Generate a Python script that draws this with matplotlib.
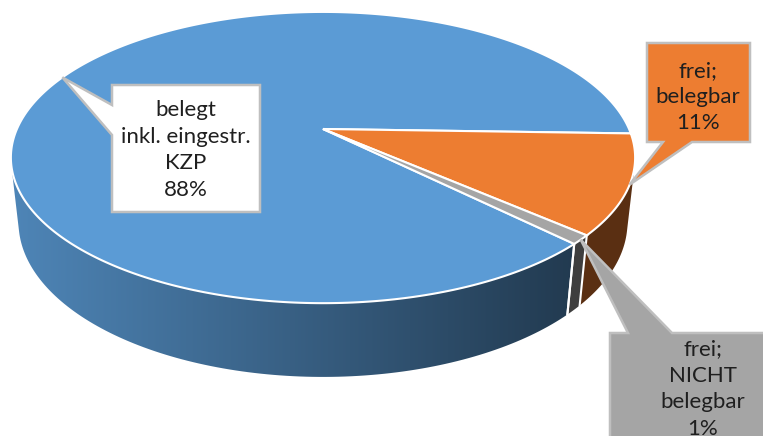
import numpy as np
import matplotlib.pyplot as plt
from matplotlib.patches import Polygon
from matplotlib.colors import to_rgb

names = ['belegt\ninkl. eingestr.\nKZP', 'frei;\nbelegbar', 'frei;\nNICHT\nbelegbar']
shares = [88, 11, 1]
top_colors = ['#5b9bd5', '#ed7d31', '#a5a5a5']
label_fills = ['white', '#ed7d31', '#a5a5a5']

# label boxes (x0, y0, x1, y1) in pixels, plus where the pointer leaves the box
boxes = [(112, 85, 260, 212), (647, 43, 750, 142), (610, 333, 800, 470)]
pointer_side = ['left', 'bottom', 'top']
pointer_base = [(105, 135), (663, 692), (628, 672)]
text_pos = [(186, 150), (698, 97), (703, 389)]

# perspective view of the 3d pie, pixel space
CX, CY = 323, 129
K, L = 1388.0, 4.535
SE, CE = 0.4575, 0.889
H = 0.24
START = 45.0


def project(phi, z=0.0):
    phi = np.radians(phi)
    px, py = np.cos(phi), np.sin(phi)
    depth = L - py * CE - z * SE
    x = CX + K * px / depth
    y = CY + K * (py * SE - z * CE) / depth
    return x, y


def shade(x):
    return np.interp(x, [10, 570], [0.86, 0.38])


fig = plt.figure(figsize=(7.63, 4.36), dpi=100)
ax = fig.add_axes([0, 0, 1, 1])

total = sum(shares)
bounds = START + np.concatenate([[0], np.cumsum(shares)]) / total * 360
vis = np.degrees(np.arcsin(1 / (L * CE)))
vis_lo, vis_hi = vis, 180 - vis

# side walls
for i in range(len(shares)):
    a, b = bounds[i], bounds[i + 1]
    for k in (-1, 0, 1):
        lo = max(a, vis_lo + 360 * k)
        hi = min(b, vis_hi + 360 * k)
        if lo >= hi:
            continue
        t = np.linspace(lo, hi, 120)
        xt, yt = project(t)
        xb, yb = project(t[::-1], -H)
        pts = np.column_stack([np.concatenate([xt, xb]), np.concatenate([yt, yb])])
        clip = Polygon(pts, closed=True, facecolor='none', edgecolor='none')
        ax.add_patch(clip)
        x0, x1 = pts[:, 0].min(), pts[:, 0].max()
        y0, y1 = pts[:, 1].min(), pts[:, 1].max()
        gx = np.linspace(x0, x1, 200)
        img = np.array(to_rgb(top_colors[i]))[None, :] * shade(gx)[:, None]
        im = ax.imshow(img[None, :, :], extent=(x0, x1, y1, y0), aspect='auto',
                       interpolation='bilinear', zorder=1)
        im.set_clip_path(clip)

# white seams on the wall
for phi in bounds:
    for k in (-1, 0, 1):
        p = phi + 360 * k
        if vis_lo < p < vis_hi:
            xa, ya = project(p)
            xb, yb = project(p, -H)
            ax.plot([xa, xb], [ya, yb], color='white', lw=1.5, zorder=2)

# top face
for i in range(len(shares)):
    t = np.linspace(bounds[i], bounds[i + 1], 400)
    xs, ys = project(t)
    pts = np.column_stack([np.concatenate([[CX], xs]), np.concatenate([[CY], ys])])
    ax.add_patch(Polygon(pts, closed=True, facecolor=top_colors[i],
                         edgecolor='white', lw=1.5, zorder=3))

# callout labels
for i in range(len(shares)):
    mid = (bounds[i] + bounds[i + 1]) / 2
    tip = project(mid)
    x0, y0, x1, y1 = boxes[i]
    p0, p1 = pointer_base[i]
    if pointer_side[i] == 'left':
        verts = [(x0, y0), (x1, y0), (x1, y1), (x0, y1), (x0, p1), tip, (x0, p0)]
    elif pointer_side[i] == 'bottom':
        verts = [(x0, y0), (x1, y0), (x1, y1), (p1, y1), tip, (p0, y1), (x0, y1)]
    else:
        verts = [(x0, y0), (p0, y0), tip, (p1, y0), (x1, y0), (x1, y1), (x0, y1)]
    ax.add_patch(Polygon(verts, closed=True, facecolor=label_fills[i],
                         edgecolor='#bfbfbf', lw=1.8, zorder=5))
    pct = round(shares[i] / total * 100)
    ax.text(text_pos[i][0], text_pos[i][1], f'{names[i]}\n{pct}%',
            ha='center', va='center', fontsize=16, family='Lato',
            color='#1f1f1f', linespacing=1.4, zorder=6)

ax.set_xlim(0, 763)
ax.set_ylim(436, 0)
ax.axis('off')
fig.savefig('out.png', dpi=100)
